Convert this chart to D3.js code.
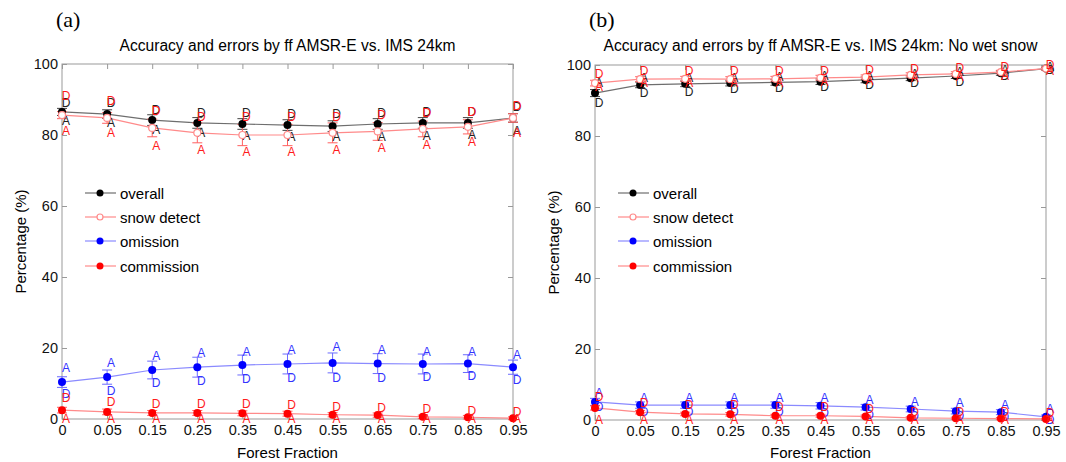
<!DOCTYPE html>
<meta charset="utf-8">
<script src="https://d3js.org/d3.v7.min.js"></script>
<style>
  body { margin: 0; background: #fff; font-family: 'Liberation Sans', Arial, sans-serif; }
  .axis path, .axis line { stroke: #999; }
  .axis text { font-size: 14.5px; fill: #111; font-family: 'Liberation Sans', Arial, sans-serif; }
</style>
<body>
<div id="my_dataviz"></div>
<script>
// forest fraction categories
const ff = ["0", "0.05", "0.15", "0.25", "0.35", "0.45", "0.55", "0.65", "0.75", "0.85", "0.95"];
const yTicks = [0, 20, 40, 60, 80, 100];

// panel (a)
const a_overall   = [86.5, 85.9, 84.2, 83.4, 83.1, 82.8, 82.5, 83.1, 83.4, 83.4, 84.8];
const a_overallE  = [1.0, 1.2, 1.5, 1.5, 1.5, 1.5, 1.5, 1.5, 1.5, 1.5, 1.2];
const a_overallD  = [89.0, 89.0, 87.0, 86.2, 86.2, 86.0, 86.0, 86.2, 86.5, 86.4, 88.0];
const a_overallA  = [84.0, 83.4, 81.4, 80.6, 79.7, 79.5, 79.4, 79.5, 79.7, 80.0, 81.0];
const a_snow      = [85.6, 84.8, 82.0, 80.6, 80.0, 80.0, 80.6, 81.0, 81.7, 82.3, 84.8];
const a_snowE     = [1.0, 1.5, 2.5, 2.8, 3.0, 3.0, 2.8, 2.5, 2.2, 2.0, 1.2];
const a_snowD     = [91.0, 89.6, 86.8, 85.0, 85.0, 85.0, 85.0, 85.6, 86.2, 86.5, 88.2];
const a_snowA     = [81.0, 80.6, 77.0, 75.8, 75.2, 75.2, 75.8, 76.3, 77.2, 78.0, 80.6];
const a_omis      = [10.4, 11.8, 13.8, 14.6, 15.2, 15.5, 15.8, 15.6, 15.5, 15.6, 14.6];
const a_omisE     = [1.5, 2.0, 2.5, 2.8, 2.8, 2.8, 2.8, 2.8, 2.8, 2.5, 2.0];
const a_omisD     = [7.0, 7.9, 10.1, 10.7, 11.3, 11.5, 11.5, 11.5, 11.8, 12.0, 11.0];
const a_omisA     = [14.4, 15.8, 17.7, 18.6, 18.9, 19.4, 20.3, 19.4, 19.0, 19.0, 18.0];
const a_comm      = [2.5, 2.0, 1.7, 1.7, 1.6, 1.5, 1.2, 1.1, 0.6, 0.5, 0.2];
const a_commE     = [0.8, 0.8, 0.7, 0.7, 0.7, 0.7, 0.6, 0.6, 0.5, 0.5, 0.4];
const a_commD     = [5.9, 4.8, 4.2, 4.2, 4.2, 3.9, 3.4, 3.1, 2.8, 2.3, 2.0];
const a_commA     = [0, 0, 0, 0, 0, 0, 0, 0, 0, 0, 0];

// panel (b)
const b_overall   = [92.1, 94.4, 94.7, 94.9, 95.1, 95.3, 95.8, 96.3, 96.9, 97.7, 99.0];
const b_overallE  = [1.0, 0.8, 0.8, 0.8, 0.8, 0.8, 0.8, 0.7, 0.7, 0.6, 0.4];
const b_overallD  = [89.3, 92.1, 92.4, 93.2, 93.4, 93.7, 94.4, 94.9, 95.2, 97.0, 98.5];
const b_overallA  = [95.0, 96.2, 96.3, 96.3, 96.5, 96.8, 97.0, 97.6, 98.0, 98.5, 99.5];
const b_snow      = [94.9, 96.0, 96.1, 96.0, 96.1, 96.4, 96.6, 97.2, 97.5, 98.0, 99.0];
const b_snowE     = [0.8, 0.7, 0.7, 0.7, 0.7, 0.7, 0.6, 0.6, 0.6, 0.5, 0.4];
const b_snowD     = [97.5, 98.3, 98.3, 98.2, 98.3, 98.4, 98.6, 98.9, 99.2, 99.3, 100.0];
const b_snowA     = [93.8, 94.8, 94.9, 94.9, 95.0, 95.3, 95.6, 96.2, 96.7, 97.0, 98.3];
const b_omis      = [5.1, 4.2, 4.2, 4.2, 4.2, 4.0, 3.6, 3.1, 2.5, 2.2, 0.9];
const b_omisE     = [1.0, 0.9, 0.9, 0.9, 0.9, 0.9, 0.8, 0.8, 0.8, 0.7, 0.5];
const b_omisD     = [3.7, 2.2, 2.2, 2.2, 2.2, 2.0, 1.5, 1.2, 1.0, 0.8, 0.0];
const b_omisA     = [7.6, 6.2, 6.3, 6.3, 6.3, 6.2, 5.6, 5.1, 4.8, 4.2, 3.1];
const b_comm      = [3.4, 2.2, 1.7, 1.6, 1.2, 1.2, 1.0, 0.6, 0.5, 0.4, 0.3];
const b_commE     = [0.6, 0.5, 0.5, 0.5, 0.4, 0.4, 0.4, 0.3, 0.3, 0.3, 0.2];
const b_commD     = [6.5, 4.8, 4.2, 4.3, 3.7, 3.6, 3.1, 2.3, 2.3, 2.2, 2.0];
const b_commA     = [0, 0, 0, 0, 0, 0, 0, 0, 0, 0, 0];

const legendNames = ["overall", "snow detect", "omission", "commission"];

const styles = [
  {line: "#6e6e6e", bar: "#444", dot: "#000", open: false, txt: "#222"},
  {line: "#ff8a8a", bar: "#ff6060", dot: "#ff8a8a", open: true, txt: "#ff1a1a"},
  {line: "#8a8aff", bar: "#6a6aff", dot: "#0000ff", open: false, txt: "#3333ff"},
  {line: "#ff8a8a", bar: "#ff6060", dot: "#ff0000", open: false, txt: "#ff1a1a"}
];

var svg = d3.select("#my_dataviz")
  .append("svg")
    .attr("width", 1066)
    .attr("height", 462);

function drawPanel(p) {
  var x = d3.scalePoint().domain(ff).range([p.x0, p.x1]).padding(0);
  var y = d3.scaleLinear().domain([0, 100]).range([p.y0, p.y1]);
  var g = svg.append("g");

  // box
  g.append("rect")
    .attr("x", p.x0).attr("y", p.y1)
    .attr("width", p.x1 - p.x0).attr("height", p.y0 - p.y1)
    .attr("fill", "none").attr("stroke", "#999");

  // axes, ticks inward on all sides
  g.append("g").attr("class", "axis")
    .attr("transform", "translate(0," + p.y0 + ")")
    .call(d3.axisBottom(x).tickSize(-5).tickPadding(6))
    .call(s => s.select(".domain").remove());
  g.append("g").attr("class", "axis")
    .attr("transform", "translate(0," + p.y1 + ")")
    .call(d3.axisTop(x).tickSize(-5).tickFormat(""))
    .call(s => s.select(".domain").remove());
  g.append("g").attr("class", "axis")
    .attr("transform", "translate(" + p.x0 + ",0)")
    .call(d3.axisLeft(y).tickValues(yTicks).tickSize(-5).tickPadding(4))
    .call(s => s.select(".domain").remove());
  g.append("g").attr("class", "axis")
    .attr("transform", "translate(" + p.x1 + ",0)")
    .call(d3.axisRight(y).tickValues(yTicks).tickSize(-5).tickFormat(""))
    .call(s => s.select(".domain").remove());

  // titles
  svg.append("text")
    .attr("x", p.x0 - 6).attr("y", 27)
    .style("font-family", "'Liberation Serif', 'DejaVu Serif', serif")
    .style("font-size", "22px")
    .text(p.tag);
  svg.append("text")
    .attr("x", (p.x0 + p.x1) / 2).attr("y", 51)
    .attr("text-anchor", "middle")
    .style("font-size", "15.6px")
    .text(p.title);
  svg.append("text")
    .attr("x", (p.x0 + p.x1) / 2).attr("y", 458)
    .attr("text-anchor", "middle")
    .style("font-size", "15px")
    .text("Forest Fraction");
  svg.append("text")
    .attr("transform", "translate(" + (p.x0 - 36) + "," + ((p.y0 + p.y1) / 2) + ")rotate(-90)")
    .attr("text-anchor", "middle")
    .style("font-size", "15px")
    .text("Percentage (%)");

  // series: lines and error bars
  p.series.forEach(function(s, k) {
    var st = styles[k];
    var line = d3.line().x((d, i) => x(ff[i])).y(d => y(d));
    g.append("path").datum(s.v)
      .attr("fill", "none").attr("stroke", st.line).attr("stroke-width", 1.2)
      .attr("d", line);

    var eb = g.append("g").attr("stroke", st.bar).attr("stroke-width", 1);
    s.v.forEach(function(v, i) {
      var cx = x(ff[i]);
      eb.append("line").attr("x1", cx).attr("x2", cx).attr("y1", y(v - s.e[i])).attr("y2", y(v + s.e[i]));
      eb.append("line").attr("x1", cx - 5).attr("x2", cx + 5).attr("y1", y(v - s.e[i])).attr("y2", y(v - s.e[i]));
      eb.append("line").attr("x1", cx - 5).attr("x2", cx + 5).attr("y1", y(v + s.e[i])).attr("y2", y(v + s.e[i]));
    });
  });

  // markers and D/A letters on top
  p.series.forEach(function(s, k) {
    var st = styles[k];
    g.append("g").selectAll("circle").data(s.v).enter().append("circle")
      .attr("cx", (d, i) => x(ff[i])).attr("cy", d => y(d))
      .attr("r", st.open ? 3.5 : 4)
      .attr("fill", st.open ? "#fff" : st.dot)
      .attr("stroke", st.dot).attr("stroke-width", st.open ? 1.2 : 0);

    [["D", s.D], ["A", s.A]].forEach(function(pair) {
      g.append("g").selectAll("text").data(pair[1]).enter().append("text")
        .attr("x", (d, i) => x(ff[i]) + 4).attr("y", d => y(d))
        .attr("text-anchor", "middle")
        .attr("dominant-baseline", "central")
        .style("font-size", "12px")
        .attr("fill", st.txt)
        .text(pair[0]);
    });
  });

  // legend
  var lg = svg.append("g");
  legendNames.forEach(function(name, k) {
    var st = styles[k];
    var ly = p.legY[k];
    lg.append("line")
      .attr("x1", p.x0 + 23).attr("x2", p.x0 + 54).attr("y1", ly).attr("y2", ly)
      .attr("stroke", st.line).attr("stroke-width", 1.2);
    lg.append("circle")
      .attr("cx", p.x0 + 38).attr("cy", ly)
      .attr("r", st.open ? 3 : 3.5)
      .attr("fill", st.open ? "#fff" : st.dot)
      .attr("stroke", st.dot).attr("stroke-width", st.open ? 1.2 : 0);
    lg.append("text")
      .attr("x", p.x0 + 58).attr("y", ly)
      .attr("dominant-baseline", "central")
      .style("font-size", "15px")
      .text(name);
  });
}

drawPanel({
  tag: "(a)",
  title: "Accuracy and errors by ff AMSR-E vs. IMS 24km",
  x0: 62, x1: 513, y0: 419, y1: 64,
  legY: [193, 217, 241, 266],
  series: [
    {v: a_overall, e: a_overallE, D: a_overallD, A: a_overallA},
    {v: a_snow, e: a_snowE, D: a_snowD, A: a_snowA},
    {v: a_omis, e: a_omisE, D: a_omisD, A: a_omisA},
    {v: a_comm, e: a_commE, D: a_commD, A: a_commA}
  ]
});

drawPanel({
  tag: "(b)",
  title: "Accuracy and errors by ff AMSR-E vs. IMS 24km: No wet snow",
  x0: 595, x1: 1046, y0: 420, y1: 65,
  legY: [193, 217, 241, 266],
  series: [
    {v: b_overall, e: b_overallE, D: b_overallD, A: b_overallA},
    {v: b_snow, e: b_snowE, D: b_snowD, A: b_snowA},
    {v: b_omis, e: b_omisE, D: b_omisD, A: b_omisA},
    {v: b_comm, e: b_commE, D: b_commD, A: b_commA}
  ]
});
</script>
</body>
